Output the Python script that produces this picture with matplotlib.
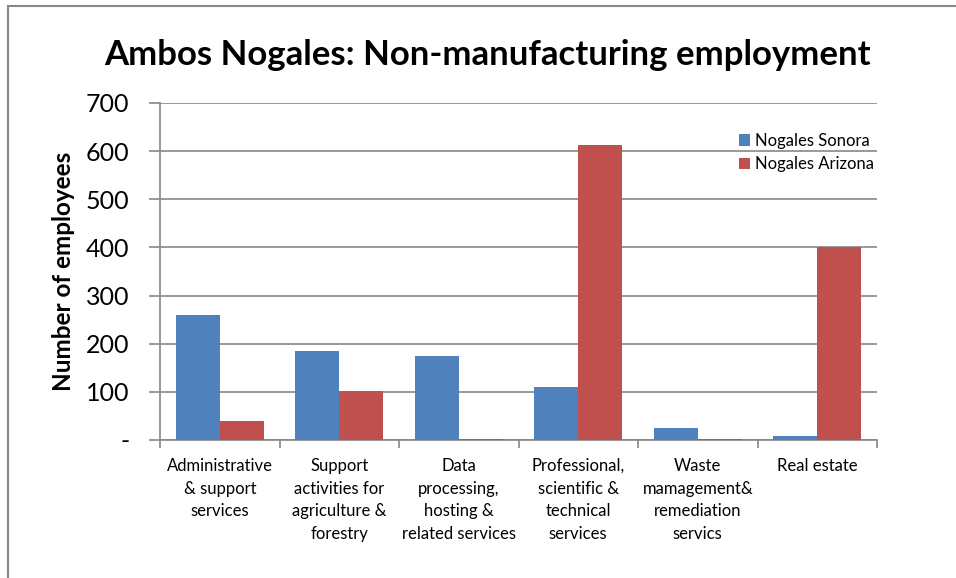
import numpy as np
import matplotlib.pyplot as plt
from matplotlib.patches import Rectangle

plt.rcParams["font.family"] = ["Lato", "DejaVu Sans"]

categories = [
    "Administrative\n& support\nservices",
    "Support\nactivities for\nagriculture &\nforestry",
    "Data\nprocessing,\nhosting &\nrelated services",
    "Professional,\nscientific &\ntechnical\nservices",
    "Waste\nmamagement&\nremediation\nservics",
    "Real estate",
]
sonora = [260, 185, 175, 110, 25, 8]
arizona = [40, 102, 3, 613, 3, 401]
yticks = [0, 100, 200, 300, 400, 500, 600, 700]
ytick_labels = ["-", "100", "200", "300", "400", "500", "600", "700"]

blue = "#4F81BD"
red = "#C0504D"
grid_grey = "#878787"

fig = plt.figure(figsize=(9.56, 5.78), dpi=100)
W, H = 956, 578
ax = fig.add_axes([160 / W, 1 - 440 / H, 717 / W, 337 / H])

# outer chart frame (runs off the right and bottom edges)
fig.patches.append(Rectangle((8 / W, -0.05), 1.1, 1 - 6 / H + 0.05,
                             transform=fig.transFigure, fill=False,
                             edgecolor=grid_grey, linewidth=1.5))

x = np.arange(len(categories))
w = 0.37
ax.bar(x - w / 2, sonora, w, color=blue, label="Nogales Sonora", zorder=3)
ax.bar(x + w / 2, arizona, w, color=red, label="Nogales Arizona", zorder=3)

ax.set_xlim(-0.5, len(categories) - 0.5)
ax.set_ylim(0, 700)
ax.set_yticks(yticks)
ax.set_yticklabels(ytick_labels, fontsize=18)
ax.yaxis.grid(True, color=grid_grey, linewidth=1.2, zorder=0)

ax.set_xticks(x)
ax.set_xticklabels(categories, fontsize=12, linespacing=1.5, va="top")
ax.tick_params(axis="x", length=0, pad=13)
ax.set_xticks(np.arange(-0.5, len(categories)), minor=True)
ax.tick_params(axis="x", which="minor", length=6, color=grid_grey, width=1.2)
ax.tick_params(axis="y", length=8, color=grid_grey, width=1.2, pad=14)

for side in ["top", "right"]:
    ax.spines[side].set_visible(False)
for side in ["left", "bottom"]:
    ax.spines[side].set_color(grid_grey)
    ax.spines[side].set_linewidth(1.2)

ax.set_ylabel("Number of employees", fontsize=17.5, fontweight="bold", labelpad=8)
fig.text(487 / W, 1 - 55 / H, "Ambos Nogales: Non-manufacturing employment",
         ha="center", va="center", fontsize=25, fontweight="bold")

ax.legend(loc="upper left", bbox_to_anchor=(732 / W, 1 - 126 / H),
          bbox_transform=fig.transFigure, frameon=False, fontsize=12,
          handlelength=0.7, handleheight=0.7, handletextpad=0.3,
          labelspacing=0.45, borderaxespad=0)

fig.savefig("out.png", dpi=100)
